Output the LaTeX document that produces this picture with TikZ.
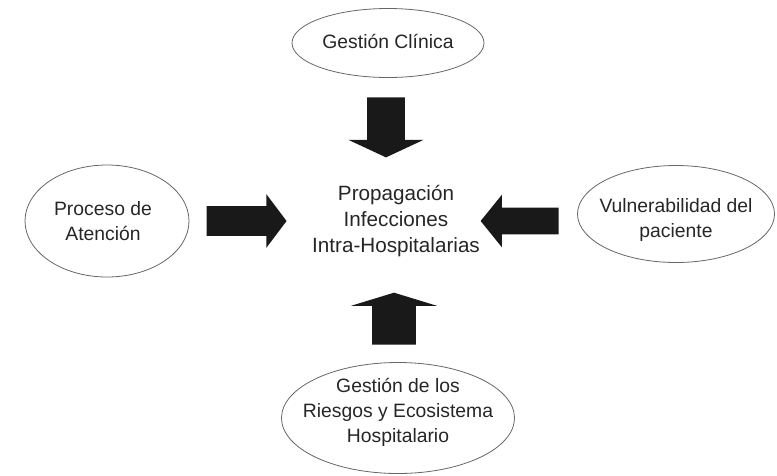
\documentclass[tikz,border=0pt]{standalone}
\usepackage{fontspec}
\setmainfont{Liberation Sans}
\usetikzlibrary{shapes.geometric}
\usetikzlibrary{shapes.arrows}
\tikzset{factor/.style = {draw = black!60, line width = 0.6pt, ellipse, inner sep = 0}}
\tikzset{rotulo/.style = {align = center, inner sep = 0, text = black!85,
                          font = \fontsize{14.5}{18.75}\selectfont}}
\tikzset{flecha/.style = {single arrow, fill = black!90, draw = none, inner xsep = 0,
                          single arrow head indent = 0}}

\begin{document}
\begin{tikzpicture}[x = 0.75pt, y = -0.75pt]
      \useasboundingbox (0, 0) rectangle (777, 475);

      % factores
      \node [factor, minimum width = 144pt, minimum height = 51.75pt] (clinica) at (388, 43) {};
      \node [factor, minimum width = 123pt, minimum height = 84pt] (atencion) at (107, 221) {};
      \node [factor, minimum width = 147.75pt, minimum height = 72.75pt] (paciente) at (676, 214) {};
      \node [factor, minimum width = 174.75pt, minimum height = 83.25pt] (riesgos) at (398, 418) {};

      \node [rotulo] (clinica-txt) at ([yshift = 1pt] clinica.center) {Gestión Clínica};
      \node [rotulo] (atencion-txt) at ([xshift = -3pt] atencion.center) {Proceso de\\Atención};
      \node [rotulo] (paciente-txt) at ([yshift = -4.5pt] paciente.center) {Vulnerabilidad del\\paciente};
      \node [rotulo] (riesgos-txt) at ([yshift = 4.5pt] riesgos.center) {Gestión de los\\Riesgos y Ecosistema\\Hospitalario};

      % centro
      \node [rotulo, font = \fontsize{15.5}{19.5}\selectfont] (propagacion) at (396, 221)
            {Propagación\\Infecciones\\Intra-Hospitalarias};

      % flechas
      \node [flecha, rotate = -90, minimum height = 45pt, inner ysep = 13.875pt,
             single arrow head extend = 14.25pt, single arrow tip angle = 130] (arriba) at (386, 123) {};
      \node [flecha, minimum height = 60pt, inner ysep = 10.875pt,
             single arrow head extend = 9pt, single arrow tip angle = 106] (izquierda) at (241, 221) {};
      \node [flecha, rotate = 180, minimum height = 58.5pt, inner ysep = 9.75pt,
             single arrow head extend = 9.75pt, single arrow tip angle = 102] (derecha) at (525, 221) {};
      \node [flecha, rotate = 90, minimum height = 39pt, inner ysep = 16.125pt,
             single arrow head extend = 15.75pt, single arrow tip angle = 146] (abajo) at (394, 322) {};
    \end{tikzpicture}
\end{document}
